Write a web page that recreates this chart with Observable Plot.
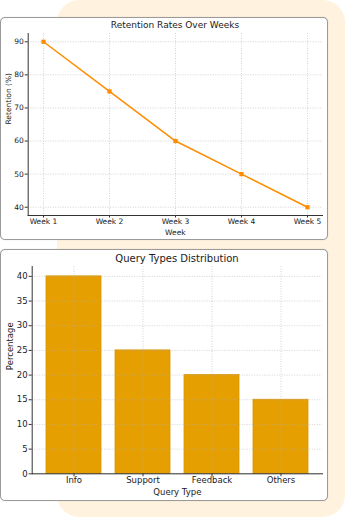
<!DOCTYPE html>
<html>
<head>
<meta charset="utf-8">
<script src="https://cdn.jsdelivr.net/npm/d3@7"></script>
<script src="https://cdn.jsdelivr.net/npm/@observablehq/plot@0.6"></script>
<style>
  html, body { margin: 0; padding: 0; background: #ffffff; }
  #page { position: relative; width: 345px; height: 517px; overflow: hidden; font-family: "DejaVu Sans", sans-serif; }
  #peach { position: absolute; left: 57px; top: 0; width: 288px; height: 517px; background: #FFF3E0; border-radius: 22px; }
  .panel { position: absolute; left: 0; width: 328px; background: #ffffff; border: 1px solid #9a9a9a; border-radius: 5px; box-sizing: border-box; box-shadow: 0 0 1px rgba(0,0,0,0.25); }
  .title { position: absolute; color: #1a1a1a; text-align: center; white-space: nowrap; }
  .chart { position: absolute; left: 0; }
</style>
</head>
<body>
<div id="page">
  <div id="peach"></div>
  <div class="panel" style="top:17px;height:223px;"></div>
  <div class="panel" style="top:249px;height:252px;"></div>
  <div class="title" style="left:28px;width:294px;top:20px;font-size:9px;line-height:10px;">Retention Rates Over Weeks</div>
  <div class="title" style="left:32px;width:290px;top:252.5px;font-size:10px;line-height:11px;">Query Types Distribution</div>
  <div class="chart" id="c1" style="top:30px;"></div>
  <div class="chart" id="c2" style="top:262px;"></div>
</div>
<script>
const weeks = ["Week 1", "Week 2", "Week 3", "Week 4", "Week 5"];
const retention = [90, 75, 60, 50, 40];
const retentionTicks = [40, 50, 60, 70, 80, 90];

const queryTypes = ["Info", "Support", "Feedback", "Others"];
const percentages = [40, 25, 20, 15];
const percentTicks = [0, 5, 10, 15, 20, 25, 30, 35, 40];

const lineData = weeks.map((w, i) => ({week: w, value: retention[i]}));
const barData = queryTypes.map((q, i) => ({type: q, value: percentages[i]}));

const style1 = {fontFamily: "DejaVu Sans, sans-serif", fontSize: "7.5px", color: "#1a1a1a", background: "transparent", overflow: "visible"};
const style2 = {fontFamily: "DejaVu Sans, sans-serif", fontSize: "8.5px", color: "#1a1a1a", background: "transparent", overflow: "visible"};
const gridOpts = {stroke: "#b0b0b0", strokeOpacity: 0.7, strokeWidth: 0.8, strokeDasharray: "1,1.5"};

const c1 = Plot.plot({
  width: 328, height: 210,
  marginLeft: 27.7, marginRight: 6, marginTop: 3, marginBottom: 25,
  style: style1,
  x: {type: "point", domain: weeks, padding: 0.2},
  y: {domain: [37.5, 92.5]},
  marks: [
    Plot.gridY(retentionTicks, gridOpts),
    Plot.gridX(weeks, gridOpts),
    Plot.line(lineData, {x: "week", y: "value", stroke: "#FF8C00", strokeWidth: 1.5}),
    Plot.dot(lineData, {x: "week", y: "value", symbol: "square", fill: "#FF8C00", r: 2.4}),
    Plot.axisY(retentionTicks, {tickSize: 3, tickPadding: 1.5, label: null, stroke: "#333"}),
    Plot.axisX(weeks, {tickSize: 2.5, tickPadding: 0.5, label: null, stroke: "#333"}),
    Plot.frame({anchor: "left", stroke: "#333"}),
    Plot.frame({anchor: "bottom", stroke: "#333"}),
    Plot.text(["Week"], {frameAnchor: "bottom", text: d => d, dy: 16.7, lineAnchor: "middle", fill: "#1a1a1a"}),
    Plot.text(["Retention (%)"], {frameAnchor: "left", text: d => d, rotate: -90, dx: -20, lineAnchor: "middle", fill: "#1a1a1a"})
  ]
});
document.getElementById("c1").appendChild(c1);

const c2 = Plot.plot({
  width: 328, height: 238,
  marginLeft: 31.7, marginRight: 6, marginTop: 4, marginBottom: 26.7,
  style: style2,
  x: {domain: queryTypes, paddingInner: 0.2, paddingOuter: 0.19},
  y: {domain: [0, 42]},
  marks: [
    Plot.barY(barData, {x: "type", y: "value", fill: "#E69F00", stroke: "#D99400", strokeWidth: 0.8, inset: 0}),
    Plot.gridY(percentTicks, gridOpts),
    Plot.gridX(queryTypes, gridOpts),
    Plot.axisY(percentTicks, {tickSize: 3, tickPadding: 1.5, label: null, stroke: "#333"}),
    Plot.axisX(queryTypes, {tickSize: 3, tickPadding: 0.5, label: null, stroke: "#333"}),
    Plot.frame({anchor: "left", stroke: "#333"}),
    Plot.frame({anchor: "bottom", stroke: "#333"}),
    Plot.text(["Query Type"], {frameAnchor: "bottom", text: d => d, dy: 18.4, lineAnchor: "middle", fill: "#1a1a1a"}),
    Plot.text(["Percentage"], {frameAnchor: "left", text: d => d, rotate: -90, dx: -22, lineAnchor: "middle", fill: "#1a1a1a"})
  ]
});
document.getElementById("c2").appendChild(c2);
</script>
</body>
</html>
